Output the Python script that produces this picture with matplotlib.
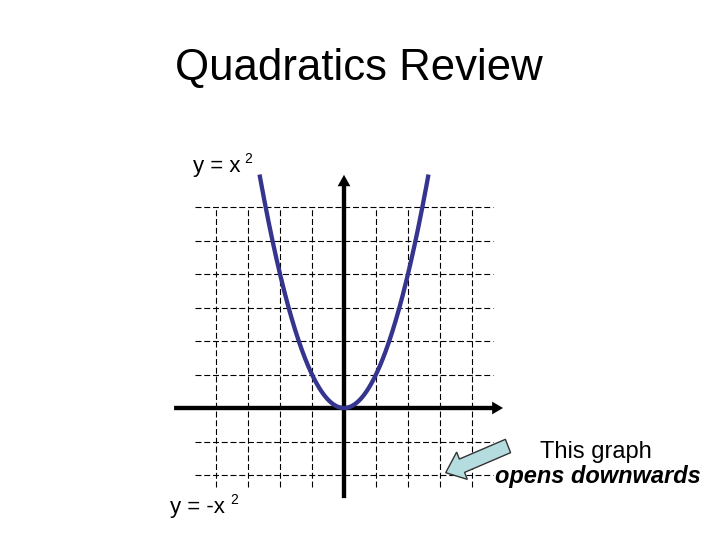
import numpy as np
import matplotlib
matplotlib.use("Agg")
import matplotlib.pyplot as plt
from matplotlib.patches import FancyArrow

plt.rcParams["font.family"] = ["Liberation Sans", "DejaVu Sans"]
plt.rcParams["lines.scale_dashes"] = False

# chart content
title = "Quadratics Review"
grid_x = [-4, -3, -2, -1, 1, 2, 3, 4]        # vertical dashed lines
grid_y = [-2, -1, 1, 2, 3, 4, 5, 6]          # horizontal dashed lines
grid_x_span = (-4.66, 4.65)
grid_y_span = (-2.35, 6.0)
x_axis_span = (-5.31, 4.97)
y_axis_span = (-2.69, 6.96)
curve_x_range = (-2.64, 2.64)
label_up = ("y = x", "2")
label_down = ("y = -x", "2")
note_lines = ["This graph", "opens downwards"]

# pixel layout of the slide (origin of the graph at px 344, 408)
OX, OY, SX, SY = 344.0, 408.0, 32.0, 33.5
W, H = 720, 540

def px(x, y):
    return (x - OX) / SX, (OY - y) / SY

fig = plt.figure(figsize=(7.2, 5.4), dpi=100)
ax = fig.add_axes([0, 0, 1, 1])
ax.set_xlim(-OX / SX, (W - OX) / SX)
ax.set_ylim(-(H - OY) / SY, OY / SY)
ax.axis("off")

fig.text(359 / W, 1 - 80 / H, title, ha="center", va="baseline", fontsize=31.5)

# dashed grid
for gy in grid_y:
    ax.plot(grid_x_span, [gy, gy], color="black", lw=0.8, dashes=(4.3, 2.0), zorder=1)
for gx in grid_x:
    ax.plot([gx, gx], grid_y_span, color="black", lw=0.8, dashes=(4.3, 2.0), zorder=1)

# axes with arrow heads
aw, hw, hl = 0.13, 0.38, 0.34
ax.add_patch(FancyArrow(x_axis_span[0], 0, x_axis_span[1] - x_axis_span[0], 0,
                        width=aw, head_width=hw, head_length=hl,
                        length_includes_head=True, color="black", lw=0, zorder=2))
ax.add_patch(FancyArrow(0, y_axis_span[0], 0, y_axis_span[1] - y_axis_span[0],
                        width=aw * SY / SX, head_width=hw * SY / SX, head_length=hl,
                        length_includes_head=True, color="black", lw=0, zorder=2))

# parabola
xs = np.linspace(curve_x_range[0], curve_x_range[1], 300)
ax.plot(xs, xs ** 2, color="#35358f", lw=3.1, solid_capstyle="butt", zorder=3)

# labels
x0, y0 = px(193, 172)
ax.text(x0, y0, label_up[0], fontsize=16, ha="left", va="baseline")
x0, y0 = px(244, 163)
ax.text(x0, y0, label_up[1], fontsize=10, ha="left", va="baseline")
x0, y0 = px(170, 513)
ax.text(x0, y0, label_down[0], fontsize=16, ha="left", va="baseline")
x0, y0 = px(230, 504)
ax.text(x0, y0, label_down[1], fontsize=10, ha="left", va="baseline")

# pointer arrow
tx, ty = px(508, 446)
hx, hy = px(445.7, 472.7)
ax.add_patch(FancyArrow(tx, ty, hx - tx, hy - ty, width=0.43, head_width=0.88,
                        head_length=0.55, length_includes_head=True,
                        facecolor="#b5dde0", edgecolor="#333333", lw=1.0, zorder=4))

x0, y0 = px(596, 458)
ax.text(x0, y0, note_lines[0], fontsize=17, ha="center", va="baseline")
x0, y0 = px(598, 483)
ax.text(x0, y0, note_lines[1], fontsize=17, ha="center", va="baseline",
        fontweight="bold", fontstyle="italic")

fig.savefig("out.png", dpi=100)
